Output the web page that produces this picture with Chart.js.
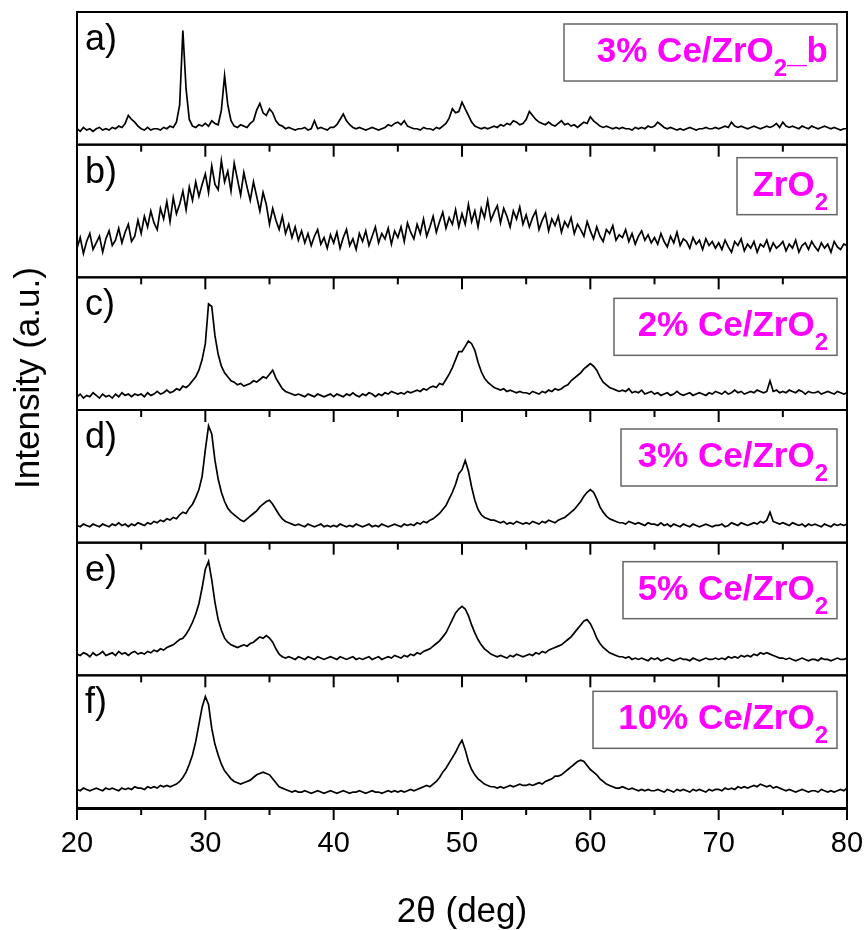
<!DOCTYPE html>
<html><head><meta charset="utf-8">
<script src="https://cdn.jsdelivr.net/npm/chart.js@4.4.1/dist/chart.umd.min.js"></script>
<style>html,body{margin:0;padding:0;background:#fff;}canvas{display:block;}</style>
</head><body>
<canvas id="c" width="867" height="930"></canvas>
<script>
// 2θ sampling grid: 20 .. 80 deg, step 0.25
const twoThetaStart = 20, twoThetaStep = 0.25;
const xTickLabels = [20, 30, 40, 50, 60, 70, 80];
const panelLetters = ['a)', 'b)', 'c)', 'd)', 'e)', 'f)'];
const sampleNames = ['3% Ce/ZrO', 'ZrO', '2% Ce/ZrO', '3% Ce/ZrO', '5% Ce/ZrO', '10% Ce/ZrO'];
const sampleSubs = ['2', '2', '2', '2', '2', '2'];
const sampleSuffix = ['_b', '', '', '', '', ''];

const intensityA = [
12,10,13,11,12,10,12,13,11,12, 11,13,12,14,13,16,22,19,17,14,
12,11,13,11,12,12,11,13,12,14, 13,17,30,86,42,19,14,13,15,14,
16,14,18,16,15,26,52,30,18,14, 13,15,14,13,16,18,26,31,24,22,
27,24,18,15,14,12,13,12,11,12, 12,13,11,12,18,12,13,12,11,13,
13,15,19,23,18,15,13,12,13,12, 11,12,13,12,11,12,13,15,14,16,
17,15,18,14,13,12,12,11,13,12, 12,11,13,12,14,16,20,27,24,25,
32,27,22,17,14,13,12,13,12,13, 14,13,15,14,16,15,18,17,15,16,
19,25,22,19,17,16,15,17,15,14, 16,18,15,16,14,15,13,15,17,16,
21,18,16,14,13,14,13,12,13,12, 13,12,12,11,13,12,13,12,14,13,
14,17,15,13,12,13,12,11,12,11, 12,13,12,11,12,12,13,12,12,13,
12,13,14,13,17,14,13,14,13,12, 13,14,13,12,13,14,13,14,16,13,
17,14,13,14,13,12,14,13,12,14, 13,12,13,14,13,12,13,12,11,12,
12];
const intensityB = [
22,30,18,27,33,21,26,31,19,29, 35,24,28,37,26,34,40,27,31,43,
33,46,38,50,41,36,52,44,57,42, 60,48,55,65,51,68,58,72,61,70,
78,64,84,70,66,88,72,80,65,86, 74,62,79,68,58,72,61,50,64,55,
40,52,43,36,46,33,40,30,38,28, 35,26,33,24,31,36,25,30,22,32,
26,34,22,30,36,24,29,21,33,27, 35,24,31,38,26,33,29,37,25,35,
30,38,27,41,34,29,40,33,44,31, 38,46,34,42,49,37,45,40,51,38,
48,40,55,42,50,38,52,45,58,43, 49,54,41,52,46,38,50,44,53,40,
47,38,45,50,36,43,48,35,44,39, 46,34,42,38,45,33,40,36,31,42,
35,29,38,31,27,36,33,39,28,32, 30,36,27,33,25,31,35,28,32,26,
30,25,33,27,23,31,26,34,24,29, 27,22,30,25,28,21,29,24,27,22,
26,21,28,23,19,27,24,29,20,25, 22,27,19,25,23,28,20,26,22,24,
27,20,25,22,28,19,24,26,21,27, 23,20,26,22,25,19,27,23,21,25,
24];
const intensityC = [
10,12,9,11,10,13,11,9,12,10, 11,9,12,10,13,11,12,10,12,11,
12,10,13,11,12,14,12,13,15,13, 14,16,15,18,17,19,22,25,30,38,
50,80,78,56,42,33,28,25,22,21, 19,20,18,19,20,22,21,23,25,24,
27,30,24,20,16,14,13,12,11,12, 11,10,12,11,10,12,11,10,11,12,
10,12,11,10,12,11,13,11,10,12, 11,13,12,10,12,11,13,12,14,13,
12,13,12,14,13,14,15,14,16,15, 17,18,17,20,19,23,27,32,38,44,
44,48,52,50,45,36,29,24,21,19, 17,16,15,16,14,15,14,13,14,13,
13,12,14,13,12,14,13,15,14,16, 15,16,18,19,22,24,26,28,31,33,
35,33,30,25,21,19,17,16,15,14, 15,14,16,13,14,13,15,12,13,14,
12,13,11,12,13,11,12,14,12,11, 12,13,11,12,13,12,11,13,12,14,
13,12,14,12,13,15,13,14,12,13, 14,13,15,14,13,14,22,14,15,13,
14,13,15,14,13,15,14,12,14,13, 13,14,12,13,14,13,12,14,13,12,
13];
const intensityD = [
13,12,14,13,12,14,13,12,14,13, 12,14,13,15,13,14,12,14,13,15,
14,13,15,14,16,15,17,16,18,17, 19,18,21,23,22,26,29,34,40,50,
70,88,82,62,48,38,31,26,23,21, 19,17,16,18,20,22,24,27,29,31,
32,29,25,21,18,16,15,14,13,14, 13,12,14,13,12,13,14,12,13,12,
13,12,14,13,12,13,12,14,13,12, 13,14,12,13,12,14,13,12,13,14,
13,12,14,13,14,13,15,14,16,15, 17,18,20,22,25,28,33,38,44,52,
55,62,54,42,32,25,21,19,18,17, 17,16,15,16,14,15,14,16,15,14,
15,14,16,15,14,16,15,17,16,15, 17,18,19,21,23,25,28,31,35,38,
40,38,33,27,23,20,18,17,16,15, 15,14,16,15,14,15,14,13,15,14,
14,13,15,13,14,12,14,13,12,14, 13,12,14,13,12,13,14,13,12,13,
13,14,12,13,15,14,13,15,14,13, 14,15,14,16,15,17,23,16,15,14,
15,14,13,15,14,13,14,12,14,13, 14,13,12,14,13,12,14,13,14,13,
14];
const intensityE = [
16,15,17,16,14,17,15,16,18,15, 16,17,15,18,16,17,15,17,18,16,
17,16,18,17,19,18,20,19,21,22, 23,25,27,28,31,35,40,46,54,66,
80,86,72,55,42,34,28,25,23,22, 21,22,23,22,24,25,27,29,28,30,
28,25,20,16,14,13,14,13,12,14, 13,12,14,13,12,14,13,12,13,14,
13,12,14,13,12,13,14,12,13,12, 13,14,12,13,14,12,13,14,13,15,
14,13,15,14,16,15,17,16,18,19, 20,22,24,26,29,32,37,42,47,50,
52,50,45,38,32,27,23,20,18,16, 15,14,15,14,13,15,14,16,15,14,
15,16,15,17,16,18,17,19,20,21, 22,23,25,27,29,32,35,38,41,42,
39,34,28,24,21,19,17,16,15,14, 14,13,14,12,13,12,13,12,11,13,
12,13,11,12,13,12,11,12,13,12, 12,11,13,12,11,12,13,12,12,13,
12,13,12,14,13,14,13,15,14,15, 14,16,15,17,16,17,16,15,14,13,
13,12,13,12,11,12,13,12,11,12, 12,11,13,12,12,11,12,13,12,12,
13];
const intensityF = [
14,13,15,14,13,14,15,14,13,15, 14,15,14,13,15,14,15,14,16,15,
15,14,16,15,16,15,17,16,17,16, 17,18,20,23,27,33,40,50,63,76,
84,78,60,48,40,33,28,25,22,20, 19,18,19,20,21,23,25,26,27,26,
25,22,19,16,15,14,13,12,13,12, 12,13,12,11,12,13,12,11,12,13,
12,11,12,13,12,11,12,12,13,12, 11,12,13,12,12,11,12,13,12,13,
12,13,12,13,14,13,14,15,16,17, 16,18,20,23,27,30,34,38,42,47,
51,44,35,29,25,22,20,18,17,16, 16,15,16,15,16,17,16,17,18,17,
17,18,17,18,19,18,20,21,22,24, 24,25,27,29,31,33,35,36,35,32,
29,27,25,22,20,18,17,16,15,15, 16,15,14,15,14,13,14,13,14,13,
13,14,13,12,14,13,12,14,13,14, 13,12,14,13,14,13,12,14,13,14,
14,13,15,14,15,14,16,15,16,15, 16,17,16,18,17,16,17,15,16,15,
14,13,14,13,12,13,14,13,12,13, 13,12,14,13,12,13,12,13,14,13,
15];

const series = [intensityA, intensityB, intensityC, intensityD, intensityE, intensityF];
const twoTheta = intensityA.map((_, i) => twoThetaStart + i * twoThetaStep);
const panelAxisIds = ['ya', 'yb', 'yc', 'yd', 'ye', 'yf'];

const FONT = '"Liberation Sans", Arial, Helvetica, sans-serif';

// decoration style (not data)
const boxTopOffsets = [12, 13, 21, 19, 19, 16];
const boxWidths = [273, 100, 223, 216, 214, 244];

const decor = {
  id: 'decor',
  afterDatasetsDraw(chart) {
    const ctx = chart.ctx, xs = chart.scales.x, area = chart.chartArea;
    ctx.save();
    ctx.strokeStyle = '#000';
    ctx.fillStyle = '#000';
    ctx.lineWidth = 2;
    const tickVals = [];
    for (let k = 0; k < xTickLabels.length; k++) {
      tickVals.push({v: xTickLabels[k], major: true});
      if (k < xTickLabels.length - 1) tickVals.push({v: (xTickLabels[k] + xTickLabels[k + 1]) / 2, major: false});
    }
    panelAxisIds.forEach((id, i) => {
      const s = chart.scales[id];
      ctx.strokeRect(area.left, s.top, area.right - area.left, s.bottom - s.top);
      if (i > 0) {
        tickVals.forEach(t => {
          const px = xs.getPixelForValue(t.v);
          ctx.beginPath();
          ctx.moveTo(px, s.top);
          ctx.lineTo(px, s.top + (t.major ? 12 : 7));
          ctx.stroke();
        });
      }
      ctx.font = '36px ' + FONT;
      ctx.textAlign = 'left';
      ctx.textBaseline = 'alphabetic';
      ctx.fillStyle = '#000';
      ctx.fillText(panelLetters[i], area.left + 8, s.top + 38);
      const right = area.right - 10;
      const top = s.top + boxTopOffsets[i];
      const w = boxWidths[i], h = 57;
      ctx.save();
      ctx.strokeStyle = '#666';
      ctx.lineWidth = 1.5;
      ctx.strokeRect(right - w, top, w, h);
      ctx.restore();
      const mainFont = 'bold 35px ' + FONT, subFont = 'bold 24px ' + FONT;
      ctx.font = mainFont; const wMain = ctx.measureText(sampleNames[i]).width;
      const wSuf = ctx.measureText(sampleSuffix[i]).width;
      ctx.font = subFont; const wSub = ctx.measureText(sampleSubs[i]).width;
      let x0 = right - 9 - (wMain + wSub + wSuf);
      ctx.fillStyle = '#ff00ff';
      ctx.font = mainFont; ctx.fillText(sampleNames[i], x0, top + 38);
      ctx.font = subFont; ctx.fillText(sampleSubs[i], x0 + wMain, top + 52);
      ctx.font = mainFont; ctx.fillText(sampleSuffix[i], x0 + wMain + wSub, top + 38);
    });
    ctx.strokeStyle = '#000';
    ctx.lineWidth = 2;
    ctx.beginPath();
    ctx.moveTo(area.left - 1, area.bottom + 1); ctx.lineTo(area.right + 1, area.bottom + 1);
    ctx.stroke();
    tickVals.forEach(t => {
      const px = xs.getPixelForValue(t.v);
      ctx.beginPath();
      ctx.moveTo(px, area.bottom);
      ctx.lineTo(px, area.bottom + (t.major ? 12 : 7));
      ctx.stroke();
    });
    ctx.save();
    ctx.fillStyle = '#000';
    ctx.font = '35px ' + FONT;
    ctx.textAlign = 'center';
    ctx.textBaseline = 'middle';
    ctx.translate(29, 378);
    ctx.rotate(-Math.PI / 2);
    ctx.fillText('Intensity (a.u.)', 0, 0);
    ctx.restore();
    ctx.restore();
  }
};

// left-stacked axes are laid out in reverse definition order, so define bottom panel first
const yScales = {};
panelAxisIds.slice().reverse().forEach(id => {
  yScales[id] = {
    type: 'linear', min: 0, max: 100, position: 'left', stack: 'xrd', stackWeight: 1,
    afterFit(s) { s.width = 0; s.paddingTop = 0; s.paddingBottom = 0; },
    grid: {display: false}, border: {display: false}, ticks: {display: false}
  };
});

new Chart(document.getElementById('c'), {
  type: 'line',
  data: {
    datasets: series.map((vals, i) => ({
      data: vals.map((v, j) => ({x: twoTheta[j], y: v})),
      yAxisID: panelAxisIds[i],
      borderColor: '#000', borderWidth: 1.7, pointRadius: 0, tension: 0, fill: false
    }))
  },
  options: {
    responsive: false, animation: false, devicePixelRatio: 1,
    layout: {padding: {left: 77, right: 20, top: 12, bottom: 0}},
    plugins: {legend: {display: false}, tooltip: {enabled: false}},
    scales: Object.assign({
      x: {
        type: 'linear', position: 'bottom', min: 20, max: 80,
        afterFit(s) { s.height = 122; s.paddingLeft = 0; s.paddingRight = 0; },
        grid: {display: false}, border: {display: false},
        ticks: {stepSize: 10, autoSkip: false, maxRotation: 0, color: '#000', padding: 11,
                font: {size: 29, family: FONT}},
        title: {display: true, text: '2θ (deg)', color: '#000', padding: {top: 0, bottom: -3},
                font: {size: 35, family: FONT}}
      }
    }, yScales)
  },
  plugins: [decor]
});
</script>
</body></html>
